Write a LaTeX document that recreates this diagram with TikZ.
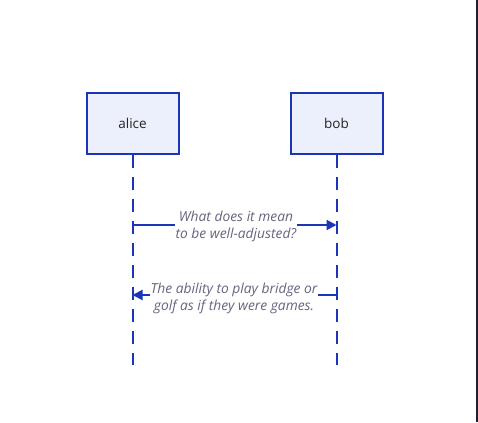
\documentclass[tikz,border=0pt]{standalone}
\usepackage{fontspec}
\setmainfont{Open Sans}
\usetikzlibrary{arrows.meta}
\definecolor{lineblue}{HTML}{1A35B8}
\definecolor{boxfill}{HTML}{ECEFFC}
\definecolor{msgtext}{HTML}{65657F}
\definecolor{edge}{HTML}{1E1E2C}
\tikzset{
  actor/.style={draw=lineblue, line width=2pt, fill=boxfill, minimum width=92pt, minimum height=60pt, inner sep=0pt, font=\fontsize{13.5}{15}\selectfont, text=black!85},
  lifeline/.style={draw=lineblue, line width=2pt, dash pattern=on 13pt off 9pt},
  msg/.style={draw=lineblue, line width=2pt, -{Triangle[length=10pt,width=10pt]}},
  msglabel/.style={fill=white, inner sep=1pt, align=center, text=msgtext, font=\fontsize{13.8}{17.5}\itshape\selectfont}
}
\begin{document}
\begin{tikzpicture}[x=1pt,y=-1pt]
\useasboundingbox (0,0) rectangle (478,422);
\fill[white] (0,0) rectangle (478,422);
\fill[edge] (476,0) rectangle (478,422);
\node[actor] (alice) at (132.5,123.5) {alice};
\node[actor] (bob) at (336.5,123.5) {bob};
\coordinate (aend) at (132.5,365);
\coordinate (bend) at (336.5,365);
\draw[lifeline] (alice.south) -- (aend);
\draw[lifeline] (bob.south) -- (bend);
\coordinate (m1a) at (132.5,225);
\coordinate (m1b) at (336.5,225);
\coordinate (m2a) at (132.5,295);
\coordinate (m2b) at (336.5,295);
\draw[msg] (m1a) -- (m1b);
\draw[msg] (m2b) -- (m2a);
\node[msglabel] (l1) at (236,226.5) {What does it mean\\to be well-adjusted?};
\node[msglabel] (l2) at (234,298.5) {The ability to play bridge or\\golf as if they were games.};
\end{tikzpicture}
\end{document}
